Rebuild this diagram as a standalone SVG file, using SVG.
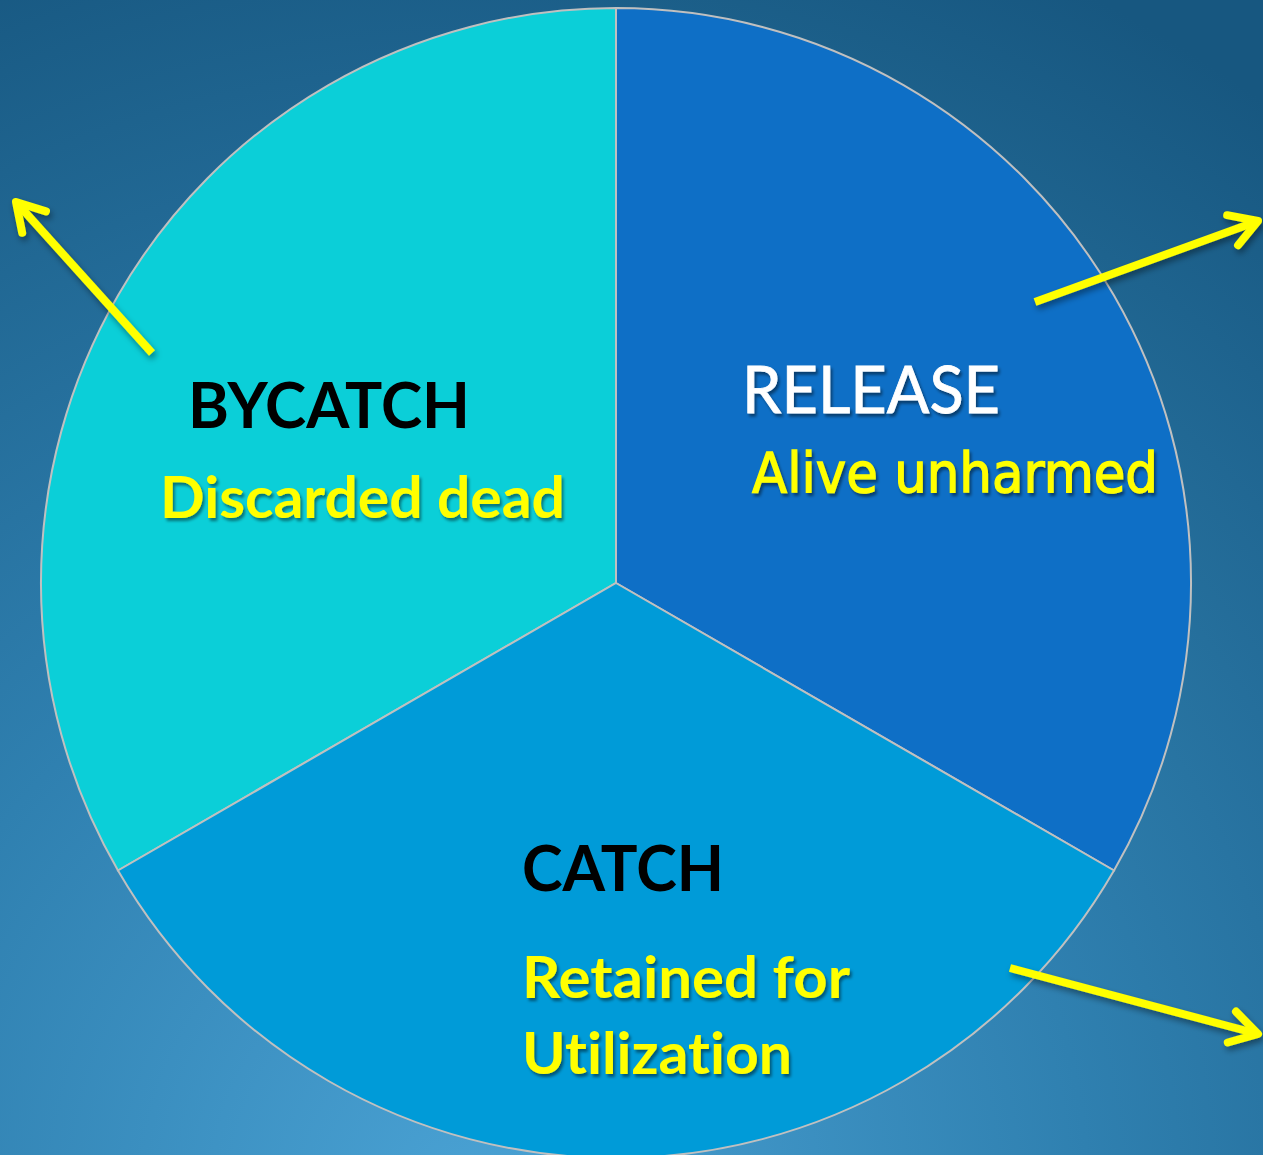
<svg xmlns="http://www.w3.org/2000/svg" width="1263" height="1155" viewBox="0 0 1263 1155">
<defs>
<radialGradient id="bg" cx="480" cy="1200" r="1350" gradientUnits="userSpaceOnUse">
<stop offset="0" stop-color="#4aa2d4"/>
<stop offset="0.45" stop-color="#2f80b0"/>
<stop offset="1" stop-color="#175780"/>
</radialGradient>
<filter id="sh" x="-10%" y="-10%" width="130%" height="140%">
<feDropShadow dx="2" dy="3" stdDeviation="1.5" flood-color="#000" flood-opacity="0.45"/>
</filter>
<filter id="ash" x="-20%" y="-20%" width="140%" height="140%">
<feDropShadow dx="2" dy="4" stdDeviation="3" flood-color="#000" flood-opacity="0.4"/>
</filter>
<marker id="head" viewBox="-40 -30 50 60" markerWidth="50" markerHeight="60" refX="0" refY="0" orient="auto" markerUnits="userSpaceOnUse" overflow="visible">
<polyline points="-27,-16 0,0 -27,16" fill="none" stroke="#ffff00" stroke-width="8" stroke-linecap="round" stroke-linejoin="round"/>
</marker>
<style>
text{font-variant-ligatures:none}
.slice{stroke:#c0c0c0;stroke-width:2}
.head{font-family:Lato,"Liberation Sans",sans-serif;font-weight:700;fill:#000}
.sub{font-family:Lato,"Liberation Sans",sans-serif;font-weight:700;fill:#ffff00}
.arrow{stroke:#ffff00;stroke-width:8;fill:none;stroke-linecap:butt}
</style>
</defs>
<rect width="1263" height="1155" fill="url(#bg)"/>
<g id="bycatch">
<path class="slice" d="M616,583 L616,8 A575,575 0 0 0 118,870.5 Z" fill="#0bcfd8"/>
<text class="head" x="188" y="428" font-size="64" textLength="282" lengthAdjust="spacingAndGlyphs">BYCATCH</text>
<text class="sub" x="160" y="518" font-size="58" textLength="405" lengthAdjust="spacingAndGlyphs" filter="url(#sh)">Discarded dead</text>
</g>
<g id="release">
<path class="slice" d="M616,583 L616,8 A575,575 0 0 1 1114,870.5 Z" fill="#0e6fc6"/>
<text x="742" y="413" font-family="Lato,'Liberation Sans',sans-serif" font-size="65" fill="#ffffff" stroke="#ffffff" stroke-width="0.8" textLength="258" lengthAdjust="spacingAndGlyphs" filter="url(#sh)">RELEASE</text>
<text x="752" y="492" font-family="'DejaVu Sans',Verdana,sans-serif" font-size="55" fill="#ffff00" stroke="#ffff00" stroke-width="1.3" textLength="406" lengthAdjust="spacingAndGlyphs" filter="url(#sh)">Alive unharmed</text>
</g>
<g id="catch">
<path class="slice" d="M616,583 L1114,870.5 A575,575 0 0 1 118,870.5 Z" fill="#009bd8"/>
<text class="head" x="522" y="891" font-size="64" textLength="202" lengthAdjust="spacingAndGlyphs">CATCH</text>
<text class="sub" x="522" y="998" font-size="58" textLength="328" lengthAdjust="spacingAndGlyphs" filter="url(#sh)">Retained for</text>
<text class="sub" x="522" y="1074" font-size="58" textLength="270" lengthAdjust="spacingAndGlyphs" filter="url(#sh)">Utilization</text>
</g>
<g id="connectors" filter="url(#ash)">
<line class="arrow" x1="152" y1="353" x2="16" y2="202" marker-end="url(#head)"/>
<line class="arrow" x1="1035" y1="302" x2="1258" y2="221" marker-end="url(#head)"/>
<line class="arrow" x1="1010" y1="968" x2="1258" y2="1034" marker-end="url(#head)"/>
</g>
</svg>
